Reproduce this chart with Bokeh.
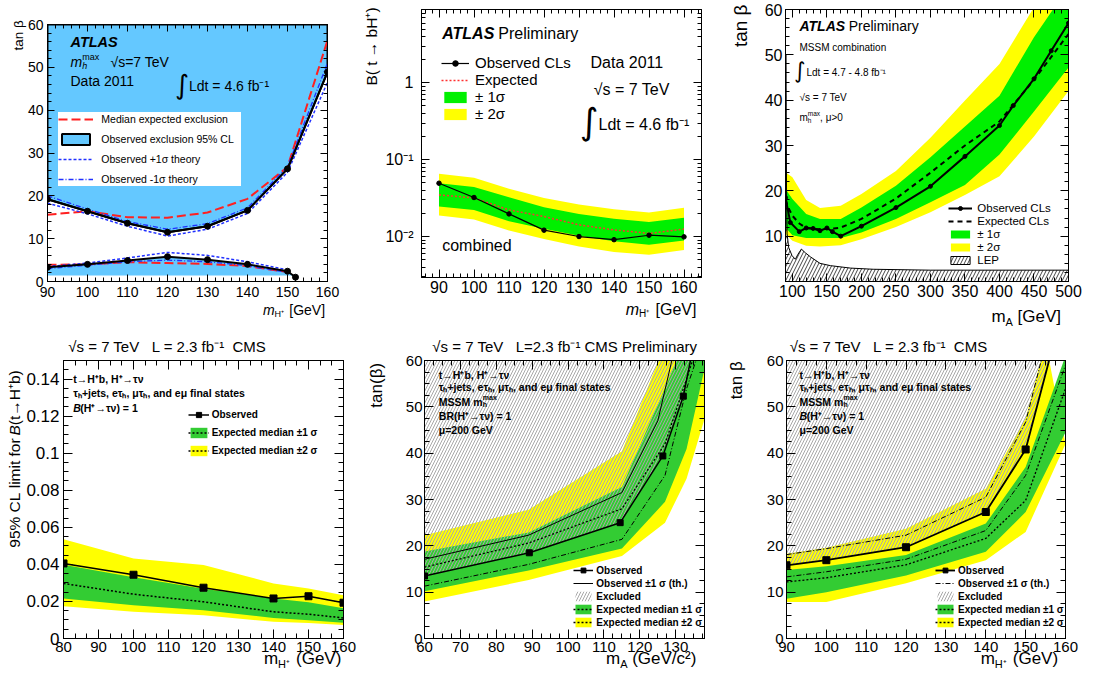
import math
from bokeh.plotting import figure
from bokeh.layouts import row, column
from bokeh.models import (Label, Legend, LegendItem, LinearAxis, LogAxis,
                          SingleIntervalTicker, LogTicker, CustomJSTickFormatter)
from bokeh.embed import file_html
from bokeh.resources import INLINE

FONT = "Liberation Sans"
INTF = "DejaVu Sans"
NB = "\u00a0"

# ======================= DATA =======================
# Panel A: ATLAS H+ tan(beta) exclusion (m_h^max)
A_mass = [90, 100, 110, 120, 130, 140, 150, 160]
A_obs_hi = [19.2, 16.4, 13.6, 11.5, 12.9, 16.6, 26.3, 48.9]
A_exp_hi = [15.6, 16.4, 15.0, 14.9, 16.1, 19.3, 26.7, 56.3]
A_p1_hi = [18.3, 15.8, 12.9, 10.6, 12.2, 15.9, 25.5, 46.5]
A_m1_hi = [20.0, 16.9, 14.0, 12.2, 13.5, 17.2, 26.8, 51.0]
A_mass_lo = [90, 100, 110, 120, 130, 140, 150, 152]
A_obs_lo = [3.3, 4.0, 4.9, 5.8, 5.1, 4.0, 2.4, 1.0]
A_mass_lo7 = [90, 100, 110, 120, 130, 140, 150]
A_exp_lo = [3.9, 4.0, 4.5, 4.3, 4.1, 3.6, 2.2]
A_p1_lo = [3.5, 4.3, 5.5, 6.8, 6.1, 4.6, 2.7]
A_m1_lo = [3.0, 3.8, 4.6, 5.0, 4.6, 3.7, 2.1]
A_floor = 1.4
A_top = 60

# Panel B: ATLAS B(t -> bH+) limit
B_mass = [90, 100, 110, 120, 130, 140, 150, 160]
B_obs = [0.0494, 0.0322, 0.0197, 0.0121, 0.0100, 0.0091, 0.0104, 0.0099]
B_exp = [0.0348, 0.0318, 0.0222, 0.0182, 0.0142, 0.0122, 0.0110, 0.0125]
B_s1_hi = [0.0494, 0.0440, 0.0325, 0.0241, 0.0197, 0.0170, 0.0154, 0.0175]
B_s1_lo = [0.0246, 0.0222, 0.0158, 0.0126, 0.0102, 0.0087, 0.0078, 0.0089]
B_s2_hi = [0.0654, 0.0580, 0.0417, 0.0318, 0.0261, 0.0227, 0.0205, 0.0236]
B_s2_lo = [0.0188, 0.0166, 0.0120, 0.0093, 0.0074, 0.0063, 0.0058, 0.0067]

# Panel C: ATLAS MSSM combination
C_obs_x = [90, 97, 110, 120, 130, 140, 150, 158, 170, 200, 250, 300, 350, 400, 420, 450, 475, 500]
C_obs_y = [18.5, 13.0, 11.0, 11.8, 11.7, 11.2, 11.8, 11.0, 10.0, 12.2, 16.3, 21.0, 27.6, 34.4, 38.8, 44.7, 50.9, 57.0]
C_exp_x = [90, 95, 100, 110, 120, 140, 160, 170, 200, 250, 300, 350, 400, 450, 500]
C_exp_y = [18.0, 16.0, 14.5, 12.8, 11.8, 11.5, 11.7, 11.9, 13.8, 18.3, 24.0, 30.0, 35.3, 44.5, 54.6]
C_band_x = [90, 100, 120, 140, 170, 200, 250, 300, 350, 400, 450, 500]
C_s1_hi = [20.4, 18.2, 14.9, 13.8, 13.8, 16.3, 21.1, 27.4, 34.2, 41.0, 53.9, 65.0]
C_s1_lo = [11.9, 10.2, 9.6, 9.6, 9.6, 10.8, 13.8, 17.5, 21.3, 28.0, 37.5, 47.2]
C_s2_hi = [24.1, 23.0, 18.0, 16.2, 16.7, 19.3, 24.4, 31.7, 39.9, 48.0, 60.5, 72.0]
C_s2_lo = [10.5, 9.0, 7.9, 7.7, 8.0, 9.3, 12.0, 15.3, 19.1, 23.2, 32.0, 42.0]
C_lep_x = [90, 90.8, 91.5, 92.3, 94.6, 99.5, 104.3, 108, 113, 119, 126, 140, 155, 184, 217, 300, 500]
C_lep_y = [50, 50, 20, 10.5, 7.5, 5.7, 4.9, 6.0, 7.15, 6.3, 5.45, 4.0, 3.5, 2.96, 2.7, 2.5, 2.5]

# Panel D: CMS B(t -> H+ b) limit
D_mass = [80, 100, 120, 140, 150, 160]
D_obs = [0.0405, 0.0344, 0.0274, 0.0216, 0.0228, 0.0193]
D_exp = [0.0297, 0.0239, 0.0198, 0.0144, 0.0131, 0.0111]
D_s1_hi = [0.0398, 0.0330, 0.0268, 0.0216, 0.0196, 0.0163]
D_s1_lo = [0.0216, 0.0180, 0.0153, 0.0111, 0.0099, 0.0085]
D_s2_hi = [0.0535, 0.0432, 0.0396, 0.0297, 0.0270, 0.0234]
D_s2_lo = [0.0174, 0.0144, 0.0126, 0.0090, 0.0084, 0.0073]

# Panel E: CMS tan(beta) vs m_A
E_obs_x = [60, 89.2, 114.5, 126.4, 132.1, 134.6]
E_obs_y = [13.5, 18.5, 25.0, 39.4, 52.3, 62.0]
E_exp_x = [60, 89, 115, 127, 133, 135.5]
E_exp_y = [15.4, 20.6, 28.0, 42.0, 56.0, 62.0]
E_thu_x = [60, 89, 115, 125, 129.5]
E_thu_y = [17.1, 22.3, 31.5, 47.0, 62.0]
E_thd_x = [60, 89, 115, 127, 133, 136.5]
E_thd_y = [11.3, 16.0, 21.4, 35.2, 53.9, 62.0]
E_s2_hi_x = [60, 89, 115, 125.2, 130]
E_s2_hi_y = [22.3, 27.8, 40.4, 60.0, 75.0]
E_s2_lo_x = [60, 89, 115, 127, 133, 138, 141]
E_s2_lo_y = [8.0, 12.6, 17.8, 25.0, 34.5, 47.4, 60.0]
E_s1_hi_x = [60, 89, 115, 130.3, 133]
E_s1_hi_y = [18.8, 22.9, 32.7, 60.0, 68.0]
E_s1_lo_x = [60, 89, 115, 127, 133, 138, 139]
E_s1_lo_y = [10.2, 14.7, 19.4, 29.5, 40.9, 58.2, 62.0]

# Panel F: CMS tan(beta) vs m_H+
F_obs_x = [90, 100, 120, 140, 150, 156.5]
F_obs_y = [15.8, 16.9, 19.7, 27.3, 40.8, 62.0]
F_thu_x = [90, 100, 120, 140, 150, 154.5]
F_thu_y = [18.1, 19.4, 22.3, 30.5, 46.7, 62.0]
F_thd_x = [90, 100, 120, 140, 150, 160]
F_thd_y = [13.3, 14.4, 17.1, 23.3, 35.2, 59.0]
F_mass = [90, 100, 120, 140, 150, 160]
F_exp = [12.2, 13.1, 15.9, 21.6, 29.8, 53.9]
F_s1_hi = [14.8, 15.6, 18.0, 24.8, 37.0, 61.0]
F_s1_lo = [8.6, 10.0, 13.6, 18.7, 27.3, 44.5]
F_s2_hi_x = [90, 100, 120, 140, 150, 155]
F_s2_hi_y = [18.3, 19.6, 23.7, 32.3, 47.5, 64.0]
F_s2_lo = [7.9, 7.9, 11.9, 16.9, 23.0, 42.0]

A_BLUE = "#64c8ff"
AT_GREEN = "#00f000"
CMS_GREEN = "#33cc33"
YELLOW = "#ffff00"


# ======================= HELPERS =======================
class Pan:
    """Frame geometry in page pixels + data ranges, to place annotations."""
    def __init__(self, fl, ft, fw, fh, xr, yr, logy=False):
        self.fl, self.ft, self.fw, self.fh = fl, ft, fw, fh
        self.xr, self.yr, self.logy = xr, yr, logy

    def data(self, sx, sy):
        x = self.xr[0] + (sx - self.fl) / self.fw * (self.xr[1] - self.xr[0])
        t = (sy - self.ft) / self.fh
        if self.logy:
            l0, l1 = math.log10(self.yr[0]), math.log10(self.yr[1])
            y = 10 ** (l1 - t * (l1 - l0))
        else:
            y = self.yr[1] - t * (self.yr[1] - self.yr[0])
        return x, y


WID = {' ': .278, '(': .333, ')': .333, '[': .278, ']': .278, '+': .584, '-': .333, '=': .584,
       '>': .584, ',': .278, '.': .278, '/': .278, '%': .889,
       'A': .667, 'B': .667, 'C': .722, 'D': .722, 'E': .667, 'G': .778, 'H': .722, 'L': .556,
       'M': .833, 'O': .778, 'P': .667, 'R': .722, 'S': .667, 'T': .611, 'V': .667,
       'a': .556, 'b': .556, 'c': .5, 'd': .556, 'e': .556, 'f': .278, 'g': .556, 'h': .556,
       'i': .222, 'j': .222, 'k': .5, 'l': .222, 'm': .833, 'n': .556, 'o': .556, 'p': .556,
       'r': .333, 's': .5, 't': .278, 'u': .556, 'v': .5, 'x': .5, 'y': .5,
       '²': .333, '⁺': .5, '⁻': .5, '¹': .333, '√': .55, '∫': .3, 'σ': .6, 'τ': .45,
       'ν': .5, 'μ': .58, 'β': .57, '±': .584, '→': 1.0, 'ₕ': .35, NB: .278}


def tw(s, size, style="normal"):
    w = sum(0.556 if c.isdigit() else WID.get(c, 0.56) for c in s)
    return w * size * (1.02 if "bold" in style else 1.0)


def put(p, pan, sx, sy, text, size, style="normal", align="left", angle=0.0, font=FONT):
    x, y = pan.data(sx, sy)
    p.add_layout(Label(x=x, y=y, text=text, text_font=font, text_font_size=f"{size}px",
                       text_font_style=style, text_align=align, text_baseline="middle",
                       angle=angle, text_color="black"))


def rich(p, pan, sx, sy, parts, align="left"):
    parts = [q if len(q) == 5 else q + (True,) for q in parts]
    parts = [(t.replace(" ", NB), s, dy, st, adv) for t, s, dy, st, adv in parts]
    total = sum(tw(t, s, st) for t, s, dy, st, adv in parts if adv)
    x = sx - total if align == "right" else sx
    for t, s, dy, st, adv in parts:
        put(p, pan, x, sy + dy, t, s, st)
        if adv:
            x += tw(t, s, st)


def vrich(p, pan, sx, sy_top, parts):
    parts = [(t.replace(" ", NB), s, st) for t, s, st in parts]
    total = sum(tw(t, s, st) for t, s, st in parts)
    y = sy_top + total
    for t, s, st in parts:
        put(p, pan, sx, y, t, s, st, angle=math.pi / 2)
        y -= tw(t, s, st)


def mkfig(pan, borders, logy=False):
    l, r, t, b = borders
    p = figure(frame_width=pan.fw, frame_height=pan.fh, x_range=pan.xr, y_range=pan.yr,
               y_axis_type="log" if logy else "linear",
               min_border_left=l, min_border_right=r, min_border_top=t, min_border_bottom=b,
               toolbar_location=None, output_backend="svg")
    p.grid.visible = False
    p.outline_line_color = "black"
    p.outline_line_width = 1
    p.background_fill_color = "white"
    p.border_fill_color = "white"
    return p


def style_axis(ax, ticker, fs, standoff, maj, mnr, fmt=None, show=True):
    ax.ticker = ticker
    ax.axis_line_color = "black"
    ax.major_tick_in = maj
    ax.major_tick_out = 0
    ax.minor_tick_in = mnr
    ax.minor_tick_out = 0
    ax.major_tick_line_color = "black"
    ax.minor_tick_line_color = "black"
    if show:
        ax.major_label_text_font = FONT
        ax.major_label_text_font_size = f"{fs}px"
        ax.major_label_text_color = "black"
        ax.major_label_standoff = standoff
        if fmt is not None:
            ax.formatter = fmt
    else:
        ax.formatter = CustomJSTickFormatter(code="return '';")
        ax.major_label_text_font_size = "1px"
        ax.major_label_standoff = 0


def axes(p, xt, yt, xfs, yfs, xso, yso, maj=8, mnr=4, xfmt=None, yfmt=None, logy=False):
    style_axis(p.xaxis[0], xt, xfs, xso, maj, mnr, xfmt)
    style_axis(p.yaxis[0], yt, yfs, yso, maj, mnr, yfmt)
    top = LinearAxis()
    right = LogAxis() if logy else LinearAxis()
    style_axis(top, xt, 1, 0, maj, mnr, show=False)
    style_axis(right, yt, 1, 0, maj, mnr, show=False)
    p.add_layout(top, "above")
    p.add_layout(right, "right")


def legend(p, pan, items, sym_left, first_c, glyph_w, glyph_h, font, spacing, standoff,
           style="normal", bg=None, padding=0, label_w=10):
    row_h = max(glyph_h, 1.15 * font)
    n = len(items)
    height = 2 * padding + n * row_h + (n - 1) * spacing
    top = first_c - row_h / 2 - padding
    bottom = top + height
    vx = sym_left - padding - pan.fl
    vy = pan.ft + pan.fh - bottom
    leg = Legend(items=items, location=(vx, vy), orientation="vertical",
                 glyph_width=glyph_w, glyph_height=glyph_h, label_height=glyph_h, label_width=label_w,
                 label_standoff=standoff, spacing=int(spacing), padding=padding, margin=0,
                 label_text_font=FONT, label_text_font_size=f"{font}px",
                 label_text_font_style=style, label_text_color="black",
                 label_text_baseline="middle", border_line_color=None,
                 background_fill_color=bg or "white",
                 background_fill_alpha=1.0 if bg else 0.0)
    p.add_layout(leg)


def band_poly(xu, yu, xl, yl):
    return list(xu) + list(reversed(xl)), list(yu) + list(reversed(yl))


# Frame geometry (page pixels) and ranges
PA = Pan(47, 24, 280, 257, (90, 160), (0, 60))
PB = Pan(421, 9, 280, 268, (85, 165), (0.00293, 9.0), logy=True)
PC = Pan(785, 9, 283, 272, (90, 500), (0, 60))
PD = Pan(63, 360, 280, 278, (80, 160), (0, 0.15))
PE = Pan(424, 360, 280, 278, (60, 138), (0, 60))
PF = Pan(786, 360, 279, 278, (90, 160), (0, 60))
PO = Pan(0, 0, 1098, 683, (0, 1098), (683, 0))

INT_FMT = CustomJSTickFormatter(code="return tick.toFixed(0);")

# Transparent page-sized overlay carrying the axis titles that sit outside the frames
ov = figure(width=1098, height=683, x_range=(0, 1098), y_range=(683, 0),
            min_border_left=0, min_border_right=0, min_border_top=0, min_border_bottom=0,
            x_axis_location=None, y_axis_location=None,
            toolbar_location=None, output_backend="svg",
            styles={"position": "absolute", "left": "0px", "top": "0px",
                    "z-index": "10", "pointer-events": "none"})
ov.grid.visible = False
ov.outline_line_color = None
ov.background_fill_alpha = 0
ov.border_fill_alpha = 0

# ======================= PANEL A =======================
pA = mkfig(PA, (47, 37, 24, 54))
rA_box = pA.patch(x=A_mass + [A_mass[-1], A_mass[0]], y=A_obs_hi + [A_top, A_top],
                  fill_color=A_BLUE, line_color="black", line_width=2)
pA.varea(x=A_mass_lo, y1=A_floor, y2=A_obs_lo, fill_color=A_BLUE)
rA_exp = pA.line(A_mass, A_exp_hi, line_color="#ff2020", line_width=2, line_dash="9 4")
pA.line(A_mass_lo7, A_exp_lo, line_color="#ff2020", line_width=2, line_dash="9 4")
rA_p1 = pA.line(A_mass, A_p1_hi, line_color="#2030ff", line_width=1.5, line_dash="3 2")
pA.line(A_mass_lo7, A_p1_lo, line_color="#2030ff", line_width=1.5, line_dash="3 2")
rA_m1 = pA.line(A_mass, A_m1_hi, line_color="#2030ff", line_width=1.3, line_dash="5 2 1 2")
pA.line(A_mass_lo7, A_m1_lo, line_color="#2030ff", line_width=1.3, line_dash="5 2 1 2")
pA.line(A_mass, A_obs_hi, line_color="black", line_width=2)
pA.scatter(A_mass, A_obs_hi, size=6, color="black")
pA.line(A_mass_lo, A_obs_lo, line_color="black", line_width=2)
pA.scatter(A_mass_lo, A_obs_lo, size=6, color="black")
axes(pA, SingleIntervalTicker(interval=10, num_minor_ticks=5),
     SingleIntervalTicker(interval=10, num_minor_ticks=5), 14, 14, 5, 4, maj=7, mnr=4,
     xfmt=INT_FMT, yfmt=INT_FMT)
legend(pA, PA, [LegendItem(label="Median expected exclusion", renderers=[rA_exp]),
                LegendItem(label="Observed exclusion 95% CL", renderers=[rA_box]),
                LegendItem(label="Observed +1σ theory", renderers=[rA_p1]),
                LegendItem(label="Observed -1σ theory", renderers=[rA_m1])],
       63.3, 114, 35, 14, 10.5, 6, 8, bg="white", padding=5, label_w=140)
put(pA, PA, 70, 41.7, "ATLAS", 14.5, "bold italic")
rich(pA, PA, 70, 61.7, [("m", 14, 0, "italic"), ("h", 9, 4, "italic", False), ("max", 9, -5, "normal")])
put(pA, PA, 110, 61.7, "√s=7 TeV", 14)
put(pA, PA, 70, 80, "Data 2011", 14)
put(pA, PA, 188.5, 84, "∫", 27, align="right", font=INTF)
put(pA, PA, 188.5, 85, "Ldt = 4.6 fb⁻¹", 14)
put(ov, PO, 18, 20, "tan β", 13.5, align="right", angle=math.pi / 2)
rich(ov, PO, 326.7, 313.3, [("m", 14, 0, "italic"), ("H⁺", 9, 4, "normal"), (" [GeV]", 14, 0, "normal")],
     align="right")

# ======================= PANEL B =======================
pB = mkfig(PB, (57, 33, 9, 58), logy=True)
rB_s2 = pB.varea(x=B_mass, y1=B_s2_lo, y2=B_s2_hi, fill_color=YELLOW)
rB_s1 = pB.varea(x=B_mass, y1=B_s1_lo, y2=B_s1_hi, fill_color=AT_GREEN)
rB_exp = pB.line(B_mass, B_exp, line_color="#ff3030", line_width=1.5, line_dash="2 2")
rB_obs = pB.line(B_mass, B_obs, line_color="black", line_width=1.2)
rB_obsm = pB.scatter(B_mass, B_obs, size=4.5, color="black")
LOG_FMT = CustomJSTickFormatter(code="""
const e = Math.round(Math.log10(tick));
if (e == 0) return "1";
const sup = {"-": "\u207b", "0": "\u2070", "1": "\u00b9", "2": "\u00b2", "3": "\u00b3"};
return "10" + String(e).split("").map(c => sup[c]).join("");
""")
axes(pB, SingleIntervalTicker(interval=10, num_minor_ticks=5), LogTicker(num_minor_ticks=10),
     16, 16, 3, 8, maj=8, mnr=4, xfmt=INT_FMT, yfmt=LOG_FMT, logy=True)
legend(pB, PB, [LegendItem(label="Observed CLs", renderers=[rB_obs, rB_obsm]),
                LegendItem(label="Expected", renderers=[rB_exp]),
                LegendItem(label="± 1σ", renderers=[rB_s1]),
                LegendItem(label="± 2σ", renderers=[rB_s2])],
       441, 61.7, 28, 14, 15, 0, 6)
rich(pB, PB, 441.7, 33.3, [("ATLAS", 16, 0, "bold italic"), (" Preliminary", 16, 0, "normal")])
put(pB, PB, 590, 61.7, "Data 2011", 16)
put(pB, PB, 593.3, 89.3, "√s = 7 TeV", 16)
put(pB, PB, 598, 121, "∫", 36, align="right", font=INTF)
put(pB, PB, 598, 124, "Ldt = 4.6 fb⁻¹", 16)
put(pB, PB, 441.7, 245, "combined", 16)
put(ov, PO, 373.3, 7, "B( t → bH⁺)", 15.5, align="right", angle=math.pi / 2)
rich(ov, PO, 700.7, 313, [("m", 16, 0, "italic"), ("H⁺", 10, 4, "normal"), (" [GeV]", 16, 0, "normal")],
     align="right")

# ======================= PANEL C =======================
pC = mkfig(PC, (51, 22, 9, 54))
rC_s2 = pC.varea(x=C_band_x, y1=C_s2_lo, y2=C_s2_hi, fill_color=YELLOW)
rC_s1 = pC.varea(x=C_band_x, y1=C_s1_lo, y2=C_s1_hi, fill_color=AT_GREEN)
lx, ly = band_poly(C_lep_x, C_lep_y, [C_lep_x[0], C_lep_x[-1]], [0, 0])
rC_lep = pC.patch(x=lx, y=ly, fill_alpha=0, hatch_pattern="/", hatch_color="#444444",
                  hatch_scale=7, hatch_weight=1, line_color="black", line_width=1)
rC_exp = pC.line(C_exp_x, C_exp_y, line_color="black", line_width=2, line_dash="5 4")
rC_obs = pC.line(C_obs_x, C_obs_y, line_color="black", line_width=2)
rC_obsm = pC.scatter(C_obs_x, C_obs_y, size=4, color="black")
C_YFMT = CustomJSTickFormatter(code="return tick == 0 ? '' : tick.toFixed(0);")
axes(pC, SingleIntervalTicker(interval=50, num_minor_ticks=5),
     SingleIntervalTicker(interval=10, num_minor_ticks=5), 16, 16, 3, 3, maj=8, mnr=4,
     xfmt=INT_FMT, yfmt=C_YFMT)
legend(pC, PC, [LegendItem(label="Observed CLs", renderers=[rC_obs, rC_obsm]),
                LegendItem(label="Expected CLs", renderers=[rC_exp]),
                LegendItem(label="± 1σ", renderers=[rC_s1]),
                LegendItem(label="± 2σ", renderers=[rC_s2]),
                LegendItem(label="LEP", renderers=[rC_lep])],
       948.3, 202.3, 24, 10, 11.5, 1, 5)
rich(pC, PC, 799, 25, [("ATLAS", 14, 0, "bold italic"), (" Preliminary", 14, 0, "normal")])
put(pC, PC, 799, 46.7, "MSSM combination", 10)
put(pC, PC, 805, 70, "∫", 22, align="right", font=INTF)
put(pC, PC, 806, 71.7, "Ldt = 4.7 - 4.8 fb⁻¹", 10)
put(pC, PC, 799, 96.7, "√s = 7 TeV", 10)
rich(pC, PC, 799, 116.7, [("m", 10, 0, "normal"), ("h", 6.5, 3, "normal", False),
                          ("max", 6.5, -4, "normal"), (", μ>0", 10, 0, "normal")])
put(ov, PO, 745, 4, "tan β", 19, align="right", angle=math.pi / 2)
rich(ov, PO, 1068, 320, [("m", 17, 0, "normal"), ("A", 11, 5, "normal"), (" [GeV]", 17, 0, "normal")],
     align="right")

# ======================= PANEL D =======================
pD = mkfig(PD, (63, 23, 25, 37))
rD_s2 = pD.varea(x=D_mass, y1=D_s2_lo, y2=D_s2_hi, fill_color=YELLOW)
rD_s1 = pD.varea(x=D_mass, y1=D_s1_lo, y2=D_s1_hi, fill_color=CMS_GREEN)
rD_exp = pD.line(D_mass, D_exp, line_color="black", line_width=1.5, line_dash="2 2")
rD_obs = pD.line(D_mass, D_obs, line_color="black", line_width=1.5)
rD_obsm = pD.scatter(D_mass, D_obs, size=7, marker="square", color="black")
D_YFMT = CustomJSTickFormatter(code="return Number(tick.toFixed(3)).toString();")
axes(pD, SingleIntervalTicker(interval=10, num_minor_ticks=3),
     SingleIntervalTicker(interval=0.02, num_minor_ticks=4), 15, 17, 3, 4, maj=9, mnr=5,
     xfmt=INT_FMT, yfmt=D_YFMT)
legend(pD, PD, [LegendItem(label="Observed", renderers=[rD_obs, rD_obsm]),
                LegendItem(label="Expected median ±1 σ", renderers=[rD_s1, rD_exp]),
                LegendItem(label="Expected median ±2 σ", renderers=[rD_s2, rD_exp])],
       187.7, 414, 21, 13, 10, 5, 3, style="bold")
put(ov, PO, 68.3, 350, f"√s = 7 TeV{NB*3}L = 2.3 fb⁻¹{NB*2}CMS", 15)
put(pD, PD, 72.7, 378, "t→H⁺b, H⁺→τν", 10.5, "bold")
put(pD, PD, 72.7, 392, "τₕ+jets, eτₕ, μτₕ, and eμ final states", 10.5, "bold")
rich(pD, PD, 72.7, 407, [("B", 10.5, 0, "bold italic"), ("(H⁺→τν) = 1", 10.5, 0, "bold")])
vrich(ov, PO, 14, 372, [("95% CL limit for ", 15.5, "normal"), ("B", 15.5, "italic"),
                        ("(t→H⁺b)", 15.5, "normal")])
rich(ov, PO, 343, 666, [("m", 17, 0, "normal"), ("H⁺", 11, 5, "normal"), (" (GeV)", 17, 0, "normal")],
     align="right")

# ======================= PANEL E =======================
pE = mkfig(PE, (58, 27, 25, 37))
px, py = band_poly(E_s2_hi_x, E_s2_hi_y, E_s2_lo_x, E_s2_lo_y)
rE_s2 = pE.patch(x=px, y=py, fill_color=YELLOW, line_color=None)
px, py = band_poly(E_s1_hi_x, E_s1_hi_y, E_s1_lo_x, E_s1_lo_y)
rE_s1 = pE.patch(x=px, y=py, fill_color=CMS_GREEN, line_color=None)
hx, hy = band_poly(E_obs_x, E_obs_y, [E_obs_x[0], E_obs_x[-1]], [E_obs_y[-1], E_obs_y[-1]])
rE_hat = pE.patch(x=hx, y=hy, fill_alpha=0, hatch_pattern="/", hatch_color="#a8a8a8",
                  hatch_scale=6, hatch_weight=1, line_color=None)
rE_exp = pE.line(E_exp_x, E_exp_y, line_color="black", line_width=1.3, line_dash="2 2")
rE_thu = pE.line(E_thu_x, E_thu_y, line_color="black", line_width=1)
pE.line(E_thd_x, E_thd_y, line_color="black", line_width=1, line_dash="5 2 1 2")
rE_obs = pE.line(E_obs_x, E_obs_y, line_color="black", line_width=1.5)
rE_obsm = pE.scatter(E_obs_x[:5], E_obs_y[:5], size=6, marker="square", color="black")
axes(pE, SingleIntervalTicker(interval=10, num_minor_ticks=4),
     SingleIntervalTicker(interval=10, num_minor_ticks=4), 15, 15, 3, 2, maj=9, mnr=5,
     xfmt=INT_FMT, yfmt=INT_FMT)
legend(pE, PE, [LegendItem(label="Observed", renderers=[rE_obs, rE_obsm]),
                LegendItem(label="Observed ±1 σ (th.)", renderers=[rE_thu]),
                LegendItem(label="Excluded", renderers=[rE_hat]),
                LegendItem(label="Expected median ±1 σ", renderers=[rE_s1, rE_exp]),
                LegendItem(label="Expected median ±2 σ", renderers=[rE_s2, rE_exp])],
       573.3, 570, 20, 12, 10, 1, 3, style="bold")
put(ov, PO, 435, 350, f"√s = 7 TeV{NB*3}L=2.3 fb⁻¹ CMS Preliminary", 15)
put(pE, PE, 438.3, 374.3, "t→H⁺b, H⁺→τν", 10.5, "bold")
put(pE, PE, 438.3, 386.7, "τₕ+jets, eτₕ, μτₕ, and eμ final states", 10.5, "bold")
rich(pE, PE, 438.3, 401, [("MSSM m", 10.5, 0, "bold"), ("h", 7, 3, "bold", False), ("max", 7, -4, "bold")])
put(pE, PE, 438.3, 415, "BR(H⁺→τν) = 1", 10.5, "bold")
put(pE, PE, 438.3, 429, "μ=200 GeV", 10.5, "bold")
put(ov, PO, 378.7, 366.7, "tan(β)", 17, align="right", angle=math.pi / 2)
rich(ov, PO, 704.3, 666, [("m", 17, 0, "normal"), ("A", 11, 5, "normal"), (" (GeV/c²)", 17, 0, "normal")],
     align="right")

# ======================= PANEL F =======================
pF = mkfig(PF, (55, 25, 25, 37))
px, py = band_poly(F_s2_hi_x, F_s2_hi_y, F_mass, F_s2_lo)
rF_s2 = pF.patch(x=px, y=py, fill_color=YELLOW, line_color=None)
px, py = band_poly(F_mass, F_s1_hi, F_mass, F_s1_lo)
rF_s1 = pF.patch(x=px, y=py, fill_color=CMS_GREEN, line_color=None)
hx, hy = band_poly(F_obs_x, F_obs_y, [F_obs_x[0], F_obs_x[-1]], [F_obs_y[-1], F_obs_y[-1]])
rF_hat = pF.patch(x=hx, y=hy, fill_alpha=0, hatch_pattern="/", hatch_color="#a8a8a8",
                  hatch_scale=6, hatch_weight=1, line_color=None)
rF_exp = pF.line(F_mass, F_exp, line_color="black", line_width=1.3, line_dash="2 2")
rF_thu = pF.line(F_thu_x, F_thu_y, line_color="black", line_width=1, line_dash="5 2 1 2")
pF.line(F_thd_x, F_thd_y, line_color="black", line_width=1, line_dash="5 2 1 2")
rF_obs = pF.line(F_obs_x, F_obs_y, line_color="black", line_width=1.8)
rF_obsm = pF.scatter(F_obs_x[:5], F_obs_y[:5], size=7, marker="square", color="black")
axes(pF, SingleIntervalTicker(interval=10, num_minor_ticks=4),
     SingleIntervalTicker(interval=10, num_minor_ticks=4), 15, 15, 3, 3, maj=9, mnr=5,
     xfmt=INT_FMT, yfmt=INT_FMT)
legend(pF, PF, [LegendItem(label="Observed", renderers=[rF_obs, rF_obsm]),
                LegendItem(label="Observed ±1 σ (th.)", renderers=[rF_thu]),
                LegendItem(label="Excluded", renderers=[rF_hat]),
                LegendItem(label="Expected median ±1 σ", renderers=[rF_s1, rF_exp]),
                LegendItem(label="Expected median ±2 σ", renderers=[rF_s2, rF_exp])],
       935, 570, 20, 12, 10, 1, 3, style="bold")
put(ov, PO, 795, 350, f"√s = 7 TeV{NB*3}L = 2.3 fb⁻¹{NB*2}CMS", 15)
put(pF, PF, 799, 374.3, "t→H⁺b, H⁺→τν", 10.5, "bold")
put(pF, PF, 799, 386.7, "τₕ+jets, eτₕ, μτₕ, and eμ final states", 10.5, "bold")
rich(pF, PF, 799, 401, [("MSSM m", 10.5, 0, "bold"), ("h", 7, 3, "bold", False), ("max", 7, -4, "bold")])
rich(pF, PF, 799, 415, [("B", 10.5, 0, "bold italic"), ("(H⁺→τν) = 1", 10.5, 0, "bold")])
put(pF, PF, 799, 429, "μ=200 GeV", 10.5, "bold")
put(ov, PO, 741.7, 365, "tan β", 17, align="right", angle=math.pi / 2)
rich(ov, PO, 1065, 666, [("m", 17, 0, "normal"), ("H⁺", 11, 5, "normal"), (" (GeV)", 17, 0, "normal")],
     align="right")

top_row = row(column(pA), column(pB), column(pC), spacing=0)
bottom_row = row(column(pD), column(pE), column(pF), spacing=0)
layout = column(top_row, bottom_row, ov, spacing=0)
open("out.html", "w").write(file_html(layout, INLINE))
